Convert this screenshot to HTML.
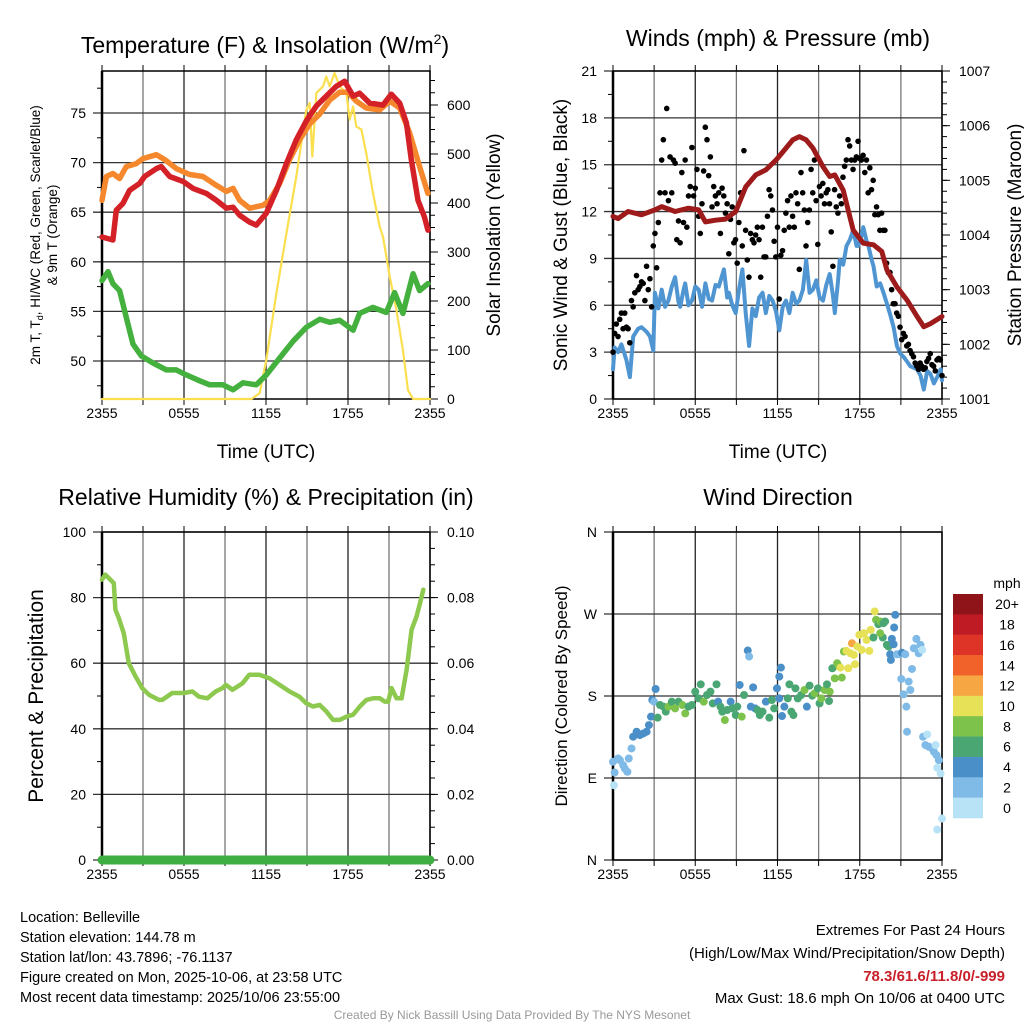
<!DOCTYPE html>
<html><head><meta charset="utf-8"><style>
html,body{margin:0;padding:0;background:#fff}
svg{display:block;font-family:"Liberation Sans",Arial,sans-serif}
</style></head><body>
<svg id="fig" width="1024" height="1024" viewBox="0 0 1024 1024" xmlns="http://www.w3.org/2000/svg">
<rect width="1024" height="1024" fill="#fff"/>
<text x="265" y="53" font-size="23" text-anchor="middle">Temperature (F) &amp; Insolation (W/m<tspan dy="-9" font-size="14">2</tspan><tspan dy="9">)</tspan></text>
<text x="778" y="46" font-size="23" text-anchor="middle">Winds (mph) &amp; Pressure (mb)</text>
<text x="266" y="505" font-size="23" text-anchor="middle">Relative Humidity (%) &amp; Precipitation (in)</text>
<text x="778" y="505" font-size="23" text-anchor="middle">Wind Direction</text>
<g id="g1"></g>
<g id="g2"></g>
<g id="g3"></g>
<g id="g4"></g>
<text transform="translate(40,235) rotate(-90)" font-size="13.5" text-anchor="middle">2m T, T<tspan font-size="9" dy="3">d</tspan><tspan dy="-3">, HI/WC (Red, Green, Scarlet/Blue)</tspan></text>
<text transform="translate(57,235) rotate(-90)" font-size="13.5" text-anchor="middle">&amp; 9m T (Orange)</text>
<text transform="translate(500,235) rotate(-90)" font-size="19" text-anchor="middle">Solar Insolation (Yellow)</text>
<text transform="translate(567,235) rotate(-90)" font-size="19" text-anchor="middle">Sonic Wind &amp; Gust (Blue, Black)</text>
<text transform="translate(1021,235) rotate(-90)" font-size="19" text-anchor="middle">Station Pressure (Maroon)</text>
<text transform="translate(43,696) rotate(-90)" font-size="21" text-anchor="middle">Percent &amp; Precipitation</text>
<text transform="translate(567,696) rotate(-90)" font-size="17" text-anchor="middle">Direction (Colored By Speed)</text>
<text x="266" y="458" font-size="19" text-anchor="middle">Time (UTC)</text>
<text x="778" y="458" font-size="19" text-anchor="middle">Time (UTC)</text>
<g font-size="14.5">
<text x="20" y="922">Location: Belleville</text>
<text x="20" y="942">Station elevation: 144.78 m</text>
<text x="20" y="962">Station lat/lon: 43.7896; -76.1137</text>
<text x="20" y="982">Figure created on Mon, 2025-10-06, at 23:58 UTC</text>
<text x="20" y="1002">Most recent data timestamp: 2025/10/06 23:55:00</text>
</g>
<g font-size="15" text-anchor="end">
<text x="1005" y="935">Extremes For Past 24 Hours</text>
<text x="1005" y="958">(High/Low/Max Wind/Precipitation/Snow Depth)</text>
<text x="1005" y="981" fill="#c8202a" font-weight="bold">78.3/61.6/11.8/0/-999</text>
<text x="1005" y="1003">Max Gust: 18.6 mph On 10/06 at 0400 UTC</text>
</g>
<text x="512" y="1019" font-size="12" fill="#999" text-anchor="middle">Created By Nick Bassill Using Data Provided By The NYS Mesonet</text>
</svg>
<script>
// ---------- data ----------
const xTickLabels = ["2355","0555","1155","1755","2355"];
// Panel 1 (hours since 2355, value)
const tempT = [0,0.8,1.05,1.54,2.02,2.76,3.12,3.98,4.34,4.95,5.93,6.66,7.63,8.37,9.1,9.59,10.07,10.8,11.29,12.02,12.76,13.49,14.22,14.95,15.68,16.41,17.15,17.76,18.37,18.85,19.59,20.56,21.17,21.78,22.27,22.63,23.12,23.6,23.85];
const tempV = [62.5,62.2,65.2,65.9,67.2,67.9,68.6,69.4,69.6,68.6,68.1,67.4,66.9,66.2,65.4,65.5,64.7,64.0,63.7,64.9,67.2,69.9,72.3,74.2,75.7,76.7,77.7,78.2,76.7,77.0,76.0,75.8,76.9,76.0,74.0,70.3,66.2,64.5,63.2];
const t9T = [0,0.32,0.8,1.29,1.78,2.51,3.0,3.98,4.59,5.44,6.41,7.39,8.37,9.1,9.59,10.07,10.8,11.78,12.27,13.0,13.73,14.46,15.2,15.93,16.66,17.39,18.0,18.61,19.34,20.32,21.05,21.78,22.51,23.24,23.85];
const t9V = [66.2,68.6,68.9,68.4,69.6,69.9,70.4,70.8,70.3,69.4,68.8,68.6,67.7,67.1,67.4,66.2,65.4,65.7,66.2,67.9,70.3,72.3,73.9,74.9,76.3,77.1,77.1,76.2,75.5,75.3,76.2,75.5,73.0,69.6,66.9];
const tdT = [0,0.44,0.8,1.29,1.78,2.27,2.88,3.73,4.71,5.44,6.17,7.15,7.88,8.85,9.59,10.32,11.29,12.02,13.0,13.98,14.95,15.93,16.66,17.39,18.37,18.85,19.83,20.8,21.41,22.02,22.76,23.24,23.85];
const tdV = [58.1,59.0,57.8,57.1,54.4,51.7,50.5,49.8,49.1,49.1,48.6,48.0,47.6,47.6,47.1,47.8,47.6,48.6,50.3,52.0,53.4,54.2,53.9,54.1,53.1,54.8,55.4,54.9,56.9,54.8,58.8,57.1,57.8];
const solT = [0,10.93,11.54,12.02,12.76,13.49,14.22,14.95,15.2,15.39,15.68,16.17,16.41,16.66,17.02,17.39,17.88,18.12,18.37,18.61,18.98,19.34,19.83,20.32,20.56,21.05,21.54,22.02,22.39,22.76,24];
const solV = [0,0,12,80,216,338,454,590,604,495,624,638,658,638,665,638,624,570,597,556,550,501,420,352,331,250,182,100,18,0,0];
// Panel 2
const presT = [0,0.37,1.10,2.08,3.06,3.55,4.53,5.51,6.25,6.74,7.48,8.21,8.95,9.68,10.42,11.15,11.89,12.62,13.11,13.60,14.09,14.58,15.32,15.81,16.18,16.79,17.52,18.26,19.0,19.61,19.98,20.71,21.45,22.18,22.67,23.16,24];
const presV = [1004.34,1004.30,1004.43,1004.37,1004.46,1004.52,1004.43,1004.49,1004.46,1004.24,1004.27,1004.29,1004.43,1004.88,1005.10,1005.19,1005.37,1005.59,1005.74,1005.80,1005.74,1005.59,1005.25,1005.07,1005.10,1004.82,1004.09,1003.85,1003.82,1003.70,1003.36,1003.05,1002.81,1002.51,1002.32,1002.38,1002.51];
const windT = [0,0.12,0.37,0.61,0.98,1.23,1.47,1.84,2.08,2.45,2.70,2.94,3.06,3.31,3.55,3.80,4.04,4.29,4.53,4.78,4.90,5.15,5.27,5.51,5.76,6.0,6.25,6.50,6.74,6.99,7.23,7.48,7.72,8.09,8.33,8.46,8.70,8.95,9.19,9.44,9.68,9.93,10.17,10.42,10.66,10.91,11.15,11.40,11.64,11.89,12.13,12.38,12.62,12.87,13.11,13.36,13.60,13.85,14.09,14.34,14.58,14.83,15.07,15.32,15.56,15.81,16.05,16.18,16.42,16.54,16.79,17.03,17.28,17.52,17.77,17.89,18.14,18.26,18.50,18.63,18.87,19.0,19.24,19.49,19.73,19.98,20.22,20.47,20.71,20.96,21.20,21.45,21.69,21.94,22.18,22.43,22.67,22.92,23.16,23.41,23.65,23.90,24];
const windV = [1.9,3.3,3.0,3.5,2.5,1.4,4.0,4.5,4.6,4.3,4.0,3.1,6.8,5.8,7.0,5.9,6.3,7.2,7.8,6.2,5.9,7.0,7.4,6.0,6.3,7.2,7.0,5.9,7.4,6.4,6.3,7.3,7.2,8.3,6.5,6.8,6.0,5.5,7.0,8.3,5.5,3.4,5.8,5.3,6.5,6.8,5.5,6.6,6.3,5.6,4.4,5.9,6.3,5.5,6.8,6.1,6.3,7.0,8.9,6.8,7.0,7.6,6.5,6.3,7.3,8.0,6.6,5.5,7.6,8.9,8.6,9.8,10.2,10.8,9.8,9.8,10.5,11.0,10.1,9.8,8.9,8.5,7.2,7.4,6.8,6.1,5.4,4.6,3.4,2.9,2.7,2.4,2.1,2.0,1.9,1.5,0.6,1.8,1.6,1.0,1.4,1.9,1.2];
// gusts: evenly spaced over 24 h
const gustV = [3.0,4.2,4.8,4.0,5.1,5.5,4.5,5.5,4.6,4.5,3.6,6.3,5.9,6.8,7.9,7.0,7.2,7.5,7.4,6.3,8.5,7.0,7.7,5.9,9.8,10.6,8.4,11.3,13.2,15.3,16.6,13.2,18.6,12.7,15.5,13.2,15.3,15.1,10.2,11.4,10.0,14.5,11.3,15.3,11.0,13.0,13.6,16.1,13.0,13.5,14.7,11.7,10.6,12.5,14.6,17.4,16.6,14.3,15.5,12.3,13.6,13.0,12.5,13.2,10.6,13.5,13.0,11.9,12.5,9.3,11.5,12.3,10.0,10.2,8.7,11.3,13.2,9.8,15.9,10.8,8.9,7.8,10.6,10.2,10.0,10.5,11.0,10.2,7.8,11.0,9.1,9.1,11.7,13.4,13.0,12.1,10.1,9.1,11.0,6.4,9.2,9.5,10.8,11.9,12.7,11.0,13.0,11.7,11.0,13.2,12.5,8.3,14.5,13.2,12.1,9.8,11.3,12.1,14.7,13.2,15.3,12.7,9.9,13.6,13.0,13.8,12.5,13.2,13.4,12.5,10.7,8.5,13.4,12.3,11.9,13.0,12.5,14.2,14.9,15.3,16.6,16.2,15.3,14.7,15.3,15.5,16.5,15.4,15.3,15.6,14.5,15.3,13.2,14.8,13.4,14.0,11.8,12.3,11.8,10.8,11.9,10.8,10.8,8.7,8.1,8.1,7.0,6.1,6.1,5.5,5.3,4.6,3.8,4.2,4.0,3.4,3.5,3.1,2.9,2.7,2.3,2.1,1.9,2.3,2.1,1.9,2.0,2.4,2.6,2.9,2.2,2.1,1.8,2.5,2.6,2.5,1.5];
// Panel 3
const rhT = [0,0.24,0.61,0.86,0.98,1.22,1.59,1.96,2.45,2.94,3.43,4.16,4.41,5.14,5.99,6.61,7.1,7.71,8.33,8.82,9.06,9.55,10.29,10.78,11.51,12.25,12.98,13.71,14.45,14.94,15.43,15.92,16.41,16.9,17.39,17.88,18.37,18.86,19.35,19.84,20.33,20.69,20.94,21.18,21.55,21.92,22.29,22.65,23.02,23.27,23.51];
const rhV = [85.5,87,85.5,84.4,76.3,73.8,69.2,60.0,56.0,52.4,50.4,48.8,48.8,50.9,50.9,51.4,49.8,49.3,51.4,52.4,53.4,51.9,53.9,56.5,56.5,55.4,53.4,51.4,49.8,47.8,46.8,47.3,45.3,42.7,42.7,43.7,44.3,46.8,48.8,49.3,49.3,48.3,48.3,52.4,49.3,49.3,58.0,70.2,74.3,78.3,82.4];
const precipT = [0,24];
const precipV = [0,0];
// Panel 4 direction (hours, degrees, mph)
const dirT = [0,0.07,0.12,0.37,0.51,0.74,0.86,1.05,1.15,1.35,1.47,1.72,1.96,2.21,2.45,2.62,2.77,2.87,2.99,3.11,3.26,3.43,3.68,3.85,4.04,4.29,4.53,4.78,5.07,5.27,5.51,5.76,6.0,6.25,6.40,6.62,6.86,7.11,7.28,7.55,7.67,7.84,7.97,8.16,8.33,8.58,8.70,8.95,9.07,9.24,9.39,9.56,9.83,9.93,10.05,10.22,10.37,10.54,10.71,10.91,11.15,11.40,11.59,11.76,11.96,12.13,12.25,12.13,12.33,12.50,12.75,12.87,13.01,13.16,13.31,13.48,13.73,13.97,14.14,14.34,14.53,14.71,14.95,15.07,15.20,15.44,15.61,15.76,15.81,16.0,16.18,16.35,16.50,16.59,16.69,16.84,17.03,17.16,17.33,17.43,17.57,17.65,17.82,17.97,18.14,18.31,18.50,18.70,18.80,19.0,19.09,19.19,19.36,19.49,19.73,19.85,19.68,19.49,19.98,20.10,20.22,20.27,20.34,20.47,20.59,20.51,20.71,20.91,21.08,21.32,21.03,21.20,21.57,21.69,21.81,21.40,21.45,21.94,22.13,22.30,22.43,22.55,22.62,22.92,22.79,23.04,23.28,23.41,23.53,23.60,23.77,23.65,23.90,24.0,23.65];
const dirDeg = [107.8,82.1,96.0,111.4,109.6,104.1,100.4,96.8,111.4,122.4,135.3,140.8,137.1,138.9,140.8,148.1,157.3,175.6,173.8,187.7,156.2,170.1,168.3,162.8,168.3,173.8,166.4,173.8,170.1,160.9,168.3,170.1,184.8,177.4,192.8,173.8,181.1,184.8,171.9,192.8,173.8,168.3,162.8,153.6,164.6,173.8,166.4,159.1,168.3,192.1,157.3,181.1,229.9,223.3,168.3,189.5,166.4,164.6,159.1,162.8,173.8,156.2,175.6,166.4,188.4,201.3,211.2,177.4,158.0,168.3,177.4,192.8,162.8,159.1,188.4,177.4,181.1,186.6,168.3,191.4,180.4,182.9,188.4,171.9,177.4,186.6,192.8,174.5,184.8,210.4,199.4,215.9,212.3,211.2,200.2,228.8,229.5,210.4,226.9,237.9,225.1,214.8,234.3,247.1,230.6,248.9,241.6,229.5,252.6,244.2,272.8,263.6,258.8,261.8,259.9,261.8,244.2,248.9,236.1,234.3,225.8,219.6,242.7,236.8,269.1,255.2,225.8,225.8,227.5,225.8,198.7,181.8,195.8,186.6,209.7,168.3,140.8,232.4,242.7,226.9,236.1,230.6,135.3,137.8,126.1,124.3,122.4,118.8,126.1,115.1,109.6,101.2,94.9,45.5,33.4];
const dirSpd = [3,1,3,3,3,3,3,3,3,3,5,5,5,5,5,5,5,5,2,5,7,7,7,7,9,7,9,7,9,9,7,7,7,7,7,9,7,7,7,7,5,7,7,9,7,5,7,7,7,5,9,7,5,3,5,5,5,7,7,7,5,7,7,7,5,5,5,5,5,5,7,7,7,7,7,7,7,9,5,7,7,9,7,7,9,9,7,7,9,7,9,9,9,11,9,9,11,11,11,13,11,11,11,11,11,11,11,11,11,7,11,9,7,9,7,7,7,9,7,7,5,5,5,5,5,5,3,3,5,3,3,3,3,3,3,3,3,3,3,3,3,1,3,1,3,3,3,3,1,3,3,1,1,1];
const cbLabels = ["20+","18","16","14","12","10","8","6","4","2","0"];
const cbColors = ["#8f1419","#bf1b25","#de3428","#f0622a","#f7a644","#e6e156","#7dc24b","#4aa673","#4a8fc7","#7fbbe6","#b8e3f7"];

// ---------- helpers ----------
const NS="http://www.w3.org/2000/svg";
function mk(tag,parent){const e=document.createElementNS(NS,tag);parent.appendChild(e);return e;}
function A(e,o){for(const k in o)e.setAttribute(k,o[k]);return e;}
const L=102,R=430,L2=613,R2=942;
function sx(x0,x1){return t=>x0+(t/24)*(x1-x0);}
function sy(y0,y1,v0,v1){return v=>y0+(v-v0)/(v1-v0)*(y1-y0);}

function frame(g,x0,x1,y0,y1,leftTicks,leftMinor,yL,rightTicks,rightMinor,yR){
  for(let i=0;i<=8;i++){const x=x0+i*(x1-x0)/8;
    const gl=mk('line',g);A(gl,{x1:x,x2:x,y1:y0,y2:y1,stroke:i%2?'#777':'#222','stroke-width':1.3});
    
    
    const tk=mk('line',g);A(tk,{x1:x,x2:x,y1:y1,y2:y1+6,stroke:'#000','stroke-width':1});
    
    
    const tk2=mk('line',g);A(tk2,{x1:x,x2:x,y1:y0,y2:y0-6,stroke:'#000','stroke-width':1});
    
    
  }
  xTickLabels.forEach((lab,i)=>{const x=x0+i*(x1-x0)/4;
    const t=mk('text',g);A(t,{x:x,y:y1+19,'font-size':14,'text-anchor':'middle'});t.textContent=lab;
    
    
  });
  leftTicks.forEach(([v,lab])=>{const y=yL(v);
    const gl=mk('line',g);A(gl,{x1:x0-9,x2:x1,y1:y,y2:y,stroke:'#333','stroke-width':1.3});
    
    
    const t=mk('text',g);A(t,{x:x0-16,y:y+5,'font-size':14,'text-anchor':'end'});t.textContent=lab;
    
    
  });
  leftMinor.forEach(v=>{const y=yL(v);const m=mk('line',g);A(m,{x1:x0-5,x2:x0,y1:y,y2:y,stroke:'#000','stroke-width':1});
    
    });
  if(rightTicks){
    rightTicks.forEach(([v,lab])=>{const y=yR(v);
      const m=mk('line',g);A(m,{x1:x1,x2:x1+8,y1:y,y2:y,stroke:'#000','stroke-width':1});
      
      
      const t=mk('text',g);A(t,{x:x1+17,y:y+5,'font-size':14});t.textContent=lab;
      
      
    });
    rightMinor.forEach(v=>{const y=yR(v);const m=mk('line',g);A(m,{x1:x1,x2:x1+5,y1:y,y2:y,stroke:'#000','stroke-width':1});
      
      });
  }
  const b=mk('rect',g);A(b,{x:x0,y:y0,width:x1-x0,height:y1-y0,fill:'none',stroke:'#000','stroke-width':1.5});
  
  
  const la=mk('line',g);A(la,{x1:x0,x2:x0,y1:y0,y2:y1,stroke:'#000','stroke-width':2.5});
  
  
}
function line(g,T,V,X,Y,color,w,name){
  const p=mk('path',g);
  
  
  const n=Math.min(T.length,V.length);
  let d='';for(let i=0;i<n;i++)d+=(i?'L':'M')+X(T[i]).toFixed(1)+','+Y(V[i]).toFixed(1);
  A(p,{d:d,fill:'none',stroke:color,'stroke-width':w,'stroke-linejoin':'round','stroke-linecap':'round'});
}
function range(a,b,s){const r=[];for(let v=a;v<=b+1e-9;v+=s)r.push(+v.toFixed(4));return r;}

// ---------- panel 1 ----------
{const g=document.getElementById('g1');const X=sx(L,R);const Y=sy(113,361,75,50);const YS=sy(399,105,0,600);
 frame(g,L,R,71,399,[[75,'75'],[70,'70'],[65,'65'],[60,'60'],[55,'55'],[50,'50']],range(47.5,77.5,5),Y,
  range(0,600,100).map(v=>[v,String(v)]),range(0,650,25),YS);
 line(g,solT,solV,X,YS,'#fbdf4f',2.2,'solar-line');
 line(g,tdT,tdV,X,Y,'#44b03e',5.5,'dewpoint-line');
 line(g,t9T,t9V,X,Y,'#f5882c',5.5,'temp9m-line');
 line(g,tempT,tempV,X,Y,'#d42127',5.5,'temp2m-line');
}
// ---------- panel 2 ----------
{const g=document.getElementById('g2');const X=sx(L2,R2);const Y=sy(399,71,0,21);const YP=sy(399,71,1001,1007);
 frame(g,L2,R2,71,399,range(0,21,3).map(v=>[v,String(v)]),range(1.5,19.5,3),Y,
  range(1001,1007,1).map(v=>[v,String(v)]),range(1001,1007,0.2),YP);
 line(g,windT,windV,X,Y,'#4f95d2',4,'sonic-wind-line');
 const n=gustV.length;
 gustV.forEach((v,i)=>{const c=mk('circle',g);
   
   
   A(c,{cx:X(i*24/(n-1)),cy:Y(v),r:2.8,fill:'#000'});});
 line(g,presT,presV,X,YP,'#9e1b1b',5,'pressure-line');
}
// ---------- panel 3 ----------
{const g=document.getElementById('g3');const X=sx(L,R);const Y=sy(860,532,0,100);const YR=sy(860,532,0,0.1);
 frame(g,L,R,532,860,range(0,100,20).map(v=>[v,String(v)]),range(10,90,20),Y,
  range(0,0.1,0.02).map(v=>[v,v.toFixed(2)]),range(0,0.1,0.005),YR);
 line(g,rhT,rhV,X,Y,'#8dc84f',4.5,'rh-line');
 line(g,precipT,precipV,X,YR,'#3fae42',9,'precip-line');
}
// ---------- panel 4 ----------
{const g=document.getElementById('g4');const X=sx(L2,R2);const Y=sy(860,532,0,360);
 frame(g,L2,R2,532,860,[[0,'N'],[90,'E'],[180,'S'],[270,'W'],[360,'N']],[],Y,null,null,null);
 const n=Math.min(dirT.length,dirDeg.length);
 for(let i=0;i<n;i++){const s=(dirSpd[i]===undefined)?1:dirSpd[i];const bin=Math.min(10,Math.floor(s/2));
   const c=mk('circle',g);
   
   
   A(c,{cx:X(dirT[i]),cy:Y(dirDeg[i]),r:4,fill:cbColors[10-bin]});}
 const cb=mk('g',g);
 
 
 const mt=mk('text',cb);A(mt,{x:1007,y:588,'font-size':14,'text-anchor':'middle'});mt.textContent='mph';
 const h=(818-594)/cbColors.length;
 cbColors.forEach((col,i)=>{const r=mk('rect',cb);
   
   
   A(r,{x:953,y:594+i*h,width:30,height:h+0.3,fill:col});
   const t=mk('text',cb);
   
   
   A(t,{x:1007,y:594+i*h+h/2+5,'font-size':14,'text-anchor':'middle'});t.textContent=cbLabels[i];});
}
</script>
</body></html>
